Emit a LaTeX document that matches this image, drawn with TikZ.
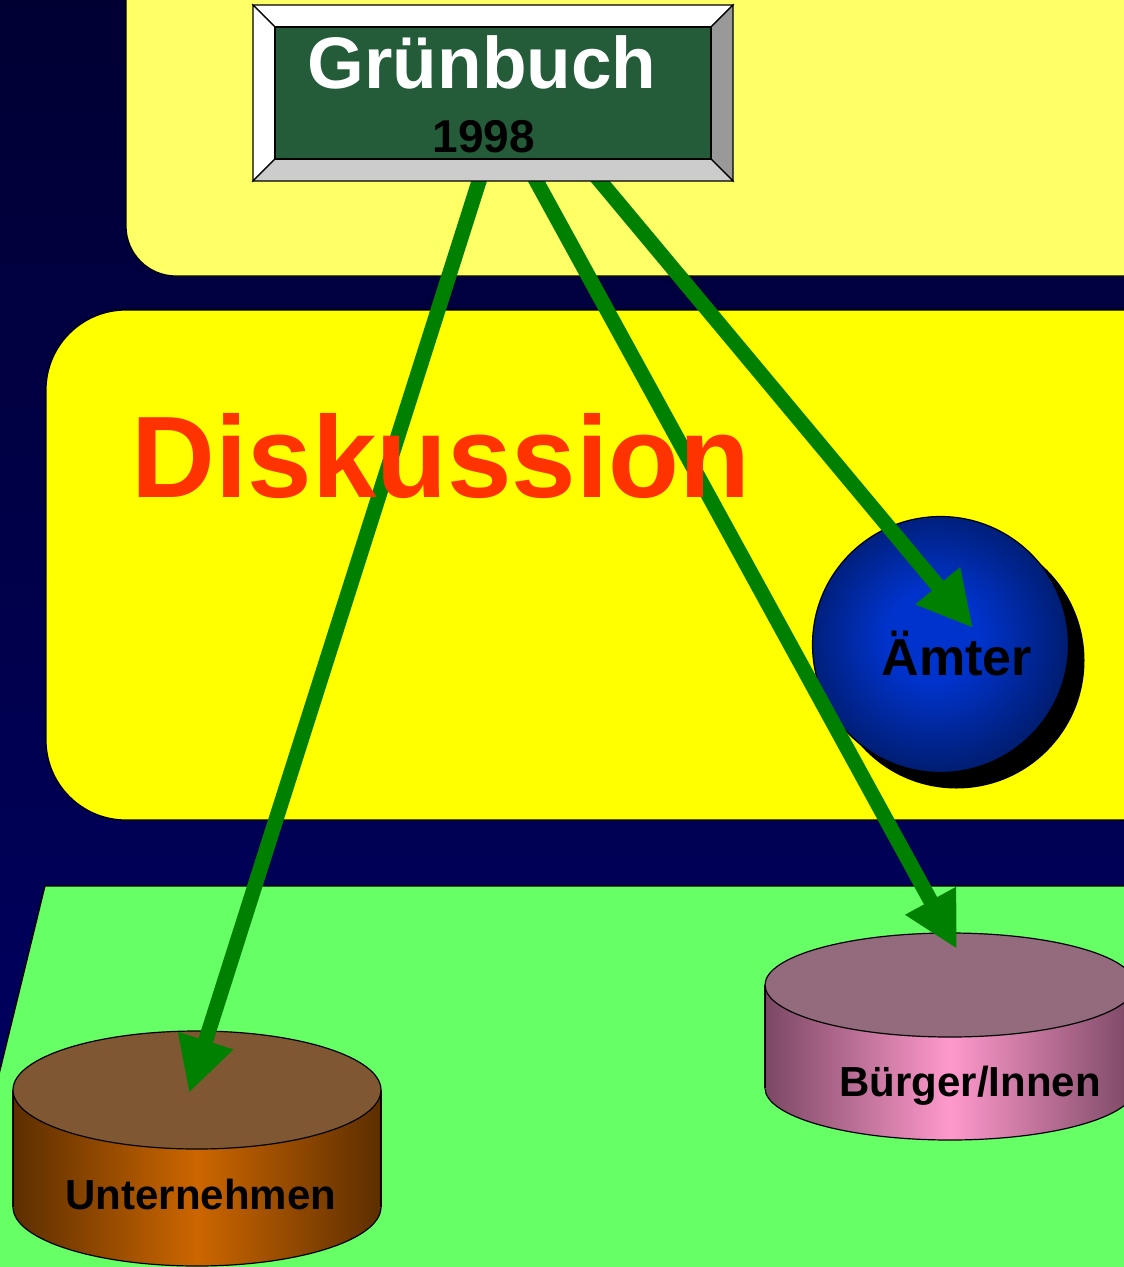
\documentclass[tikz,border=0pt]{standalone}
\usepackage{fontspec}
\setmainfont{Liberation Sans}
\usetikzlibrary{positioning,arrows.meta,shadows}
\tikzset{>={Triangle[length=55pt,width=54pt]}}

\definecolor{navytop}{RGB}{0,0,51}
\definecolor{navybot}{RGB}{0,0,102}
\definecolor{paleyellow}{RGB}{255,255,102}
\definecolor{fullyellow}{RGB}{255,255,0}
\definecolor{lightgreen}{RGB}{102,255,102}
\definecolor{diskred}{RGB}{255,51,0}
\definecolor{arrowgreen}{RGB}{0,128,0}
\definecolor{marble}{RGB}{36,92,58}
\definecolor{bevelright}{RGB}{153,153,153}
\definecolor{bevelbottom}{RGB}{204,204,204}
\definecolor{spherein}{RGB}{0,51,204}
\definecolor{sphereout}{RGB}{0,24,92}
\definecolor{browntop}{RGB}{127,87,51}
\definecolor{brownedge}{RGB}{92,46,0}
\definecolor{brownmid}{RGB}{204,102,0}
\definecolor{pinktop}{RGB}{147,107,124}
\definecolor{pinkedge}{RGB}{122,72,99}
\definecolor{pinkmid}{RGB}{255,153,204}
\pgfdeclareradialshading{amtball}{\pgfpoint{-2bp}{2bp}}{color(0bp)=(spherein); color(9bp)=(spherein); color(30bp)=(sphereout); color(50bp)=(sphereout)}

\begin{document}
\begin{tikzpicture}[x=1pt, y=-1pt, line width=1.2pt,
    pfeil/.style={->, line width=15pt, draw=arrowgreen},
    cyltext/.style={anchor=base, inner sep=0pt, font=\bfseries\fontsize{42}{48}\selectfont}]
      \clip (0,0) rectangle (1124,1267);
      \shade[top color=navytop, bottom color=navybot] (0,0) rectangle (1124,1267);
      % panels
      \draw[fill=paleyellow, rounded corners=50pt] (126,-100) rectangle (1200,276);
      \draw[fill=fullyellow, rounded corners=80pt] (46,310) rectangle (1200,820);
      \draw[fill=lightgreen] (45,886) -- (1200,886) -- (1200,1300) -- (-56,1300) -- cycle;
      % Aemter
      \fill[black] (956.5,660.5) circle (128);
      \node[circle, draw, minimum size=256pt, inner sep=0pt, shade, shading=amtball] (amt) at (940.5,644.5) {};
      % Unternehmen
      \shade[left color=brownedge, right color=brownedge, middle color=brownmid, draw=black] (197,1207) ellipse (184 and 59);
      \shade[left color=brownedge, right color=brownedge, middle color=brownmid] (13,1090) rectangle (381,1207);
      \draw (13,1090) -- (13,1207) (381,1090) -- (381,1207);
      \draw[fill=browntop] (197,1090) ellipse (184 and 59);
      % Buerger
      \shade[left color=pinkedge, right color=pinkedge, middle color=pinkmid, draw=black] (950,1088) ellipse (185 and 52);
      \shade[left color=pinkedge, right color=pinkedge, middle color=pinkmid] (765,985) rectangle (1135,1088);
      \draw (765,985) -- (765,1088) (1135,985) -- (1135,1088);
      \draw[fill=pinktop] (950,985) ellipse (185 and 52);
      % arrows
      \coordinate (g1) at (481,175);
      \coordinate (g2) at (533,175);
      \coordinate (g3) at (595,175);
      \coordinate (untin) at (189,1093);
      \coordinate (burin) at (957,949);
      \coordinate (amtin) at (973,628);
      \draw[pfeil] (g1) -- (untin);
      \draw[pfeil] (g2) -- (burin);
      \draw[pfeil] (g3) -- (amtin);
      \node[anchor=base, inner sep=0pt, text=diskred, font=\bfseries\fontsize{116}{130}\selectfont] (disk) at (441,497) {Diskussion};
      \node[anchor=base, inner sep=0pt, font=\bfseries\fontsize{52}{60}\selectfont] (amttext) at (957,675) {Ämter};
      \node[cyltext] (unt) at (201,1209) {Unternehmen};
      \node[cyltext] (burg) at (970,1096) {Bürger/Innen};
      % Gruenbuch
      \draw[fill=white] (253,5) -- (733,5) -- (711,27) -- (275,27) -- cycle;
      \draw[fill=white] (253,5) -- (275,27) -- (275,159) -- (253,181) -- cycle;
      \draw[fill=bevelright] (733,5) -- (733,181) -- (711,159) -- (711,27) -- cycle;
      \draw[fill=bevelbottom] (253,181) -- (733,181) -- (711,159) -- (275,159) -- cycle;
      \node[draw, fill=marble, minimum width=436pt, minimum height=132pt, inner sep=0pt] (gruen) at (493,93) {};
      \node[anchor=base, inner sep=0pt, text=white, font=\bfseries\fontsize{73}{80}\selectfont] (titel) at (482,88) {Grünbuch};
      \node[anchor=base, inner sep=0pt, font=\bfseries\fontsize{46}{52}\selectfont] (jahr) at (484,152) {1998};
\end{tikzpicture}
\end{document}
